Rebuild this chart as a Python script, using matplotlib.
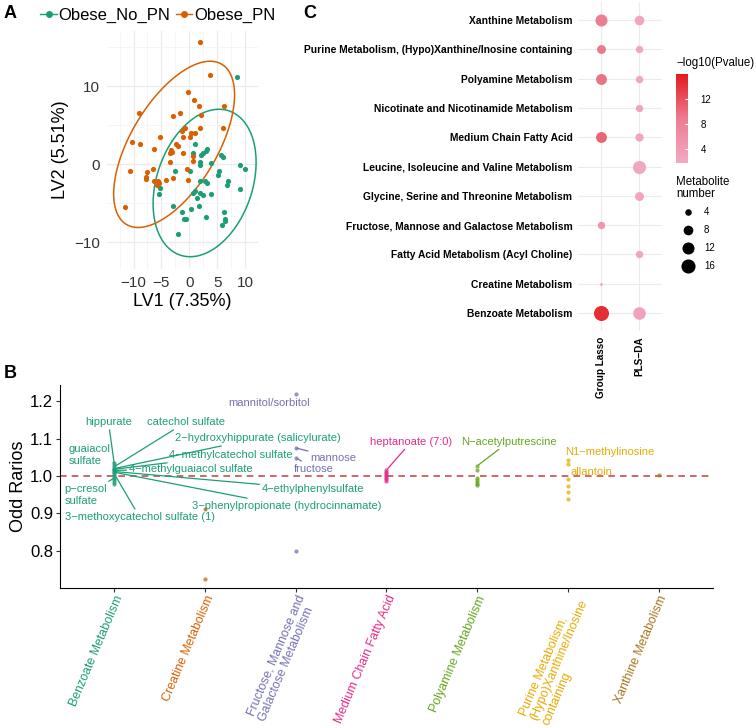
import numpy as np
import matplotlib
matplotlib.use('Agg')
import matplotlib.pyplot as plt
from matplotlib.colors import LinearSegmentedColormap, Normalize
from matplotlib.colorbar import ColorbarBase
from matplotlib.lines import Line2D

plt.rcParams['font.family'] = ['Liberation Sans', 'DejaVu Sans']

# ---------------- data ----------------
# panel A: PLS-DA scores
no_pn_lv1 = [8.6, 1.0, 3.1, 2.9, 2.4, 2.1, 0.7, 5.6, 6.1, 1.9, 1.9, 3.9, 9.1, 10.0, -2.5,
             0.1, 5.3, 5.2, -5.2, -5.4, 1.9, 2.8, 3.2, 7.0, 6.7, 9.0, 1.0, 1.9, 0.6, 2.5,
             3.8, 1.7, -2.9, -1.4, 0.3, -0.95, -0.6, 3.0, 6.2, 6.3, 6.4, 5.8, -2.0, 1.3]
no_pn_lv2 = [11.2, 2.6, 1.9, 1.7, 1.4, 1.2, 1.4, 1.2, 0.9, 0.3, -0.1, 0.2, -0.1, -0.6, -0.9,
             -0.8, -0.8, -1.4, -3.1, -3.8, -2.1, -2.1, -2.4, -2.2, -2.7, -3.2, -3.4, -3.7, -3.7, -3.9,
             -3.8, -5.3, -5.3, -6.1, -5.7, -7.0, -7.0, -6.8, -6.1, -7.0, -7.3, -7.8, -8.9, -4.3]
pn_lv1 = [1.9, 3.7, -0.2, 0.8, 1.7, 6.2, 2.1, -1.7, -2.9, -9.1, -0.8, -1.3, 1.9, 6.0, 0.3,
          1.0, 0.1, -1.2, -5.3, -10.3, -8.8, -2.4, -2.1, -6.3, -3.3, -3.1, -3.4, -1.2, -3.5, 0.6,
          -10.6, -7.6, -7.8, -7.8, -6.5, -5.6, -6.4, -4.1, -2.9, -5.5, -0.3, 0.7, -11.5, -5.8, -0.4]
pn_lv2 = [15.7, 11.4, 9.2, 8.2, 7.4, 7.5, 6.3, 6.5, 6.2, 6.5, 4.7, 4.3, 4.6, 4.6, 4.0,
          4.0, 3.5, 3.5, 3.5, 2.8, 2.6, 2.6, 2.3, 2.0, 1.8, 1.6, 1.4, 1.4, 0.3, 0.4,
          -0.9, -1.0, -1.6, -1.9, -0.6, -2.1, -2.2, -2.0, -1.8, -2.4, -2.0, 1.0, -5.5, -2.6, -0.6]

# panel B: odds ratios per pathway
pathways_b = ['Benzoate Metabolism', 'Creatine Metabolism',
              'Fructose, Mannose and\nGalactose Metabolism', 'Medium Chain Fatty Acid',
              'Polyamine Metabolism', 'Purine Metabolism,\n(Hypo)Xanthine/Inosine\ncontaining',
              'Xanthine Metabolism']
or_values = [
    [1.035, 1.03, 1.025, 1.02, 1.018, 1.015, 1.012, 1.01, 1.005, 1.0, 0.995, 0.99, 0.985, 0.98],
    [0.912, 0.725],
    [1.219, 1.075, 1.049, 0.800],
    [1.016, 1.012, 1.008, 1.004, 1.0, 0.996, 0.992, 0.988],
    [1.027, 1.016, 0.995, 0.99, 0.985, 0.98, 0.976],
    [1.043, 1.031, 0.992, 0.973, 0.958, 0.938],
    [1.002],
]
# labelled metabolites: name, pathway index, odds ratio
met_names = ['hippurate', 'catechol sulfate', '2\u2212hydroxyhippurate (salicylurate)',
             '4\u2212methylcatechol sulfate', '4\u2212methylguaiacol sulfate', 'guaiacol\nsulfate',
             'p\u2212cresol\nsulfate', '3\u2212methoxycatechol sulfate (1)',
             '3\u2212phenylpropionate (hydrocinnamate)', '4\u2212ethylphenylsulfate',
             'mannitol/sorbitol', 'mannose', 'fructose', 'heptanoate (7:0)',
             'N\u2212acetylputrescine', 'N1\u2212methylinosine', 'allantoin']
met_path = [0, 0, 0, 0, 0, 0, 0, 0, 0, 0, 2, 2, 2, 3, 4, 5, 5]
met_or = [1.030, 1.025, 1.020, 1.018, 1.015, 1.035, 0.995, 1.005, 1.010, 1.012,
          1.219, 1.075, 1.049, 1.016, 1.027, 1.043, 0.992]

# panel C: enrichment
pathways_c = ['Benzoate Metabolism', 'Creatine Metabolism', 'Fatty Acid Metabolism (Acyl Choline)',
              'Fructose, Mannose and Galactose Metabolism', 'Glycine, Serine and Threonine Metabolism',
              'Leucine, Isoleucine and Valine Metabolism', 'Medium Chain Fatty Acid',
              'Nicotinate and Nicotinamide Metabolism', 'Polyamine Metabolism',
              'Purine Metabolism, (Hypo)Xanthine/Inosine containing', 'Xanthine Metabolism']
methods = ['Group Lasso', 'PLS\u2212DA']
gl_count = [18, 1, None, 5, None, None, 10, None, 10, 7, 12]
gl_logp = [14.5, 3.0, None, 5.0, None, None, 10.5, None, 9.5, 9.0, 8.5]
pls_count = [13, None, 5, None, 7, 14, 6, 5, 5, 5, 8]
pls_logp = [2.8, None, 2.4, None, 2.5, 2.2, 2.5, 2.4, 2.5, 2.3, 2.5]

# ---------------- figure ----------------
W, H = 756, 728
fig = plt.figure(figsize=(W / 100, H / 100), dpi=100)


def add_ax(l, t, r, b):
    return fig.add_axes([l / W, 1 - b / H, (r - l) / W, (b - t) / H])


def ellipse(x, y, f95=3.21):
    # normal-theory 95% ellipse like stat_ellipse
    pts = np.column_stack([x, y])
    mu = pts.mean(axis=0)
    vals, vecs = np.linalg.eigh(np.cov(pts.T))
    t = np.linspace(0, 2 * np.pi, 200)
    circ = np.column_stack([np.cos(t), np.sin(t)]) * np.sqrt(vals) * np.sqrt(2 * f95)
    return circ @ vecs.T + mu


green, orange = '#1B9E77', '#D95F02'
txt_grey = '#333333'

# ---- panel A
axA = add_ax(107, 31, 258, 269)
for xs, ys, col in [(no_pn_lv1, no_pn_lv2, green), (pn_lv1, pn_lv2, orange)]:
    axA.scatter(xs, ys, s=14, color=col, linewidths=0, zorder=3)
    e = ellipse(xs, ys)
    axA.plot(e[:, 0], e[:, 1], color=col, lw=1.1, zorder=2)
axA.set_xlim(-14.75, 12.3)
axA.set_ylim(-13.4, 17.05)
axA.set_xticks([-10, -5, 0, 5, 10])
axA.set_yticks([-10, 0, 10])
axA.set_xticks([-12.5, -7.5, -2.5, 2.5, 7.5], minor=True)
axA.set_yticks([-5, 5, 15], minor=True)
axA.grid(which='major', color='#EBEBEB', lw=0.9)
axA.grid(which='minor', color='#F2F2F2', lw=0.5)
axA.set_axisbelow(True)
for sp in axA.spines.values():
    sp.set_visible(False)
axA.tick_params(which='both', length=0, labelsize=11, labelcolor=txt_grey, pad=5)
axA.set_xlabel('LV1 (7.35%)', fontsize=13, labelpad=2)
axA.set_ylabel('LV2 (5.51%)', fontsize=13, labelpad=4)
handles = [Line2D([0], [0], color=c, marker='o', ms=4, lw=1) for c in (green, orange)]
fig.legend(handles, ['Obese_No_PN', 'Obese_PN'], loc='center left',
           bbox_to_anchor=(32 / W, 1 - 15 / H), ncol=2, frameon=False, fontsize=12,
           handlelength=1.0, handletextpad=0.1, columnspacing=0.3, borderpad=0)

# ---- panel B
dark2 = ['#1B9E77', '#D95F02', '#7570B3', '#E7298A', '#66A61E', '#E6AB02', '#A6761D']
axB = add_ax(60, 385, 713, 588)
for i, vals in enumerate(or_values):
    axB.scatter([i + 1] * len(vals), vals, s=9, color=dark2[i], alpha=0.75, linewidths=0, zorder=3)
axB.axhline(1.0, color='#C8504B', lw=1.2, ls=(0, (4, 3)), zorder=2)

# label layout (x, y of text, horizontal alignment, draw segment)
lab_pos = [(0.934, 1.144, 'center', True), (1.79, 1.144, 'center', True),
           (1.67, 1.101, 'left', True), (1.60, 1.056, 'left', True),
           (1.165, 1.019, 'left', True), (0.494, 1.056, 'left', True),
           (0.45, 0.949, 'left', True), (0.45, 0.891, 'left', True),
           (1.857, 0.920, 'left', True), (2.63, 0.965, 'left', True),
           (2.253, 1.195, 'left', False), (3.165, 1.049, 'left', True),
           (2.98, 1.019, 'left', True), (4.275, 1.092, 'center', True),
           (4.824, 1.092, 'left', True), (5.967, 1.064, 'left', False),
           (6.033, 1.011, 'left', False)]
for name, p, v, (tx, ty, ha, seg) in zip(met_names, met_path, met_or, lab_pos):
    col = dark2[p]
    ap = dict(arrowstyle='-', color=col, lw=0.9, shrinkA=0, shrinkB=1) if seg else None
    axB.annotate(name, xy=(p + 1, v), xytext=(tx, ty), ha=ha, va='center',
                 multialignment='left', fontsize=8, color=col, arrowprops=ap,
                 linespacing=1.25, zorder=4)

axB.set_xlim(0.4, 7.6)
axB.set_ylim(0.701, 1.243)
axB.set_yticks([0.8, 0.9, 1.0, 1.1, 1.2])
axB.set_yticklabels(['0.8', '0.9', '1.0', '1.1', '1.2'])
axB.set_xticks(range(1, 8))
axB.set_xticklabels(pathways_b, rotation=67, ha='right', va='top',
                    rotation_mode='anchor', fontsize=8.9, multialignment='left',
                    linespacing=1.05)
for lbl, c in zip(axB.get_xticklabels(), dark2):
    lbl.set_color(c)
axB.spines['top'].set_visible(False)
axB.spines['right'].set_visible(False)
axB.tick_params(axis='y', labelsize=12, length=3, color='#333333', labelcolor='black', pad=2)
axB.tick_params(axis='x', length=3, color='#333333', pad=1)
axB.set_ylabel('Odd Rarios', fontsize=13, labelpad=2)

# ---- panel C
cmap = LinearSegmentedColormap.from_list('pv', ['#F2AAC4', '#EC7C90', '#E31A1C'])
norm = Normalize(1.7, 16)


def dot_area(n):
    d_px = 2.7 + 3.8 * (np.sqrt(n) - 1)
    return (d_px * 0.72) ** 2


axC = add_ax(578, 2.4, 662, 330.6)
for col_i, (cnt, lp) in enumerate([(gl_count, gl_logp), (pls_count, pls_logp)]):
    for row_i, (n, v) in enumerate(zip(cnt, lp)):
        if n is None:
            continue
        axC.scatter(col_i + 1, row_i + 1, s=dot_area(n), color=cmap(norm(v)),
                    linewidths=0, zorder=3)
axC.set_xlim(0.4, 2.6)
axC.set_ylim(0.4, 11.6)
axC.set_xticks([1, 2])
axC.set_xticklabels(methods, rotation=90, fontsize=7.2, fontweight='bold', va='top')
axC.set_yticks(range(1, 12))
axC.set_yticklabels(pathways_c, fontsize=7.4, fontweight='bold')
axC.grid(color='#EBEBEB', lw=0.8)
axC.set_axisbelow(True)
for sp in axC.spines.values():
    sp.set_visible(False)
axC.tick_params(length=0, pad=4)

# colour bar
cax = add_ax(676, 74, 688, 163)
cb = ColorbarBase(cax, cmap=cmap, norm=norm, ticks=[4, 8, 12])
cb.outline.set_visible(False)
cax.tick_params(length=2.5, color='white', labelsize=7, direction='in', pad=9)
fig.text(676 / W, 1 - 63 / H, '\u2212log10(Pvalue)', fontsize=8.3, va='center', ha='left')

# size legend
fig.text(676 / W, 1 - 188 / H, 'Metabolite\nnumber', fontsize=8.3, va='center', ha='left',
         linespacing=1.1)
lax = add_ax(676, 203, 720, 275)
lax.set_xlim(0, 44)
lax.set_ylim(275, 203)
lax.axis('off')
for n, yy in zip([4, 8, 12, 16], [212, 230, 248, 266]):
    lax.scatter(12, yy, s=dot_area(n), color='black', linewidths=0)
    lax.text(28, yy, str(n), fontsize=7, va='center', ha='left')

# panel letters
for letter, (x, y) in zip('ABC', [(4, 13), (4, 374), (303, 13)]):
    fig.text(x / W, 1 - y / H, letter, fontsize=13, fontweight='bold', va='center', ha='left')

fig.savefig('out.png', dpi=100)
